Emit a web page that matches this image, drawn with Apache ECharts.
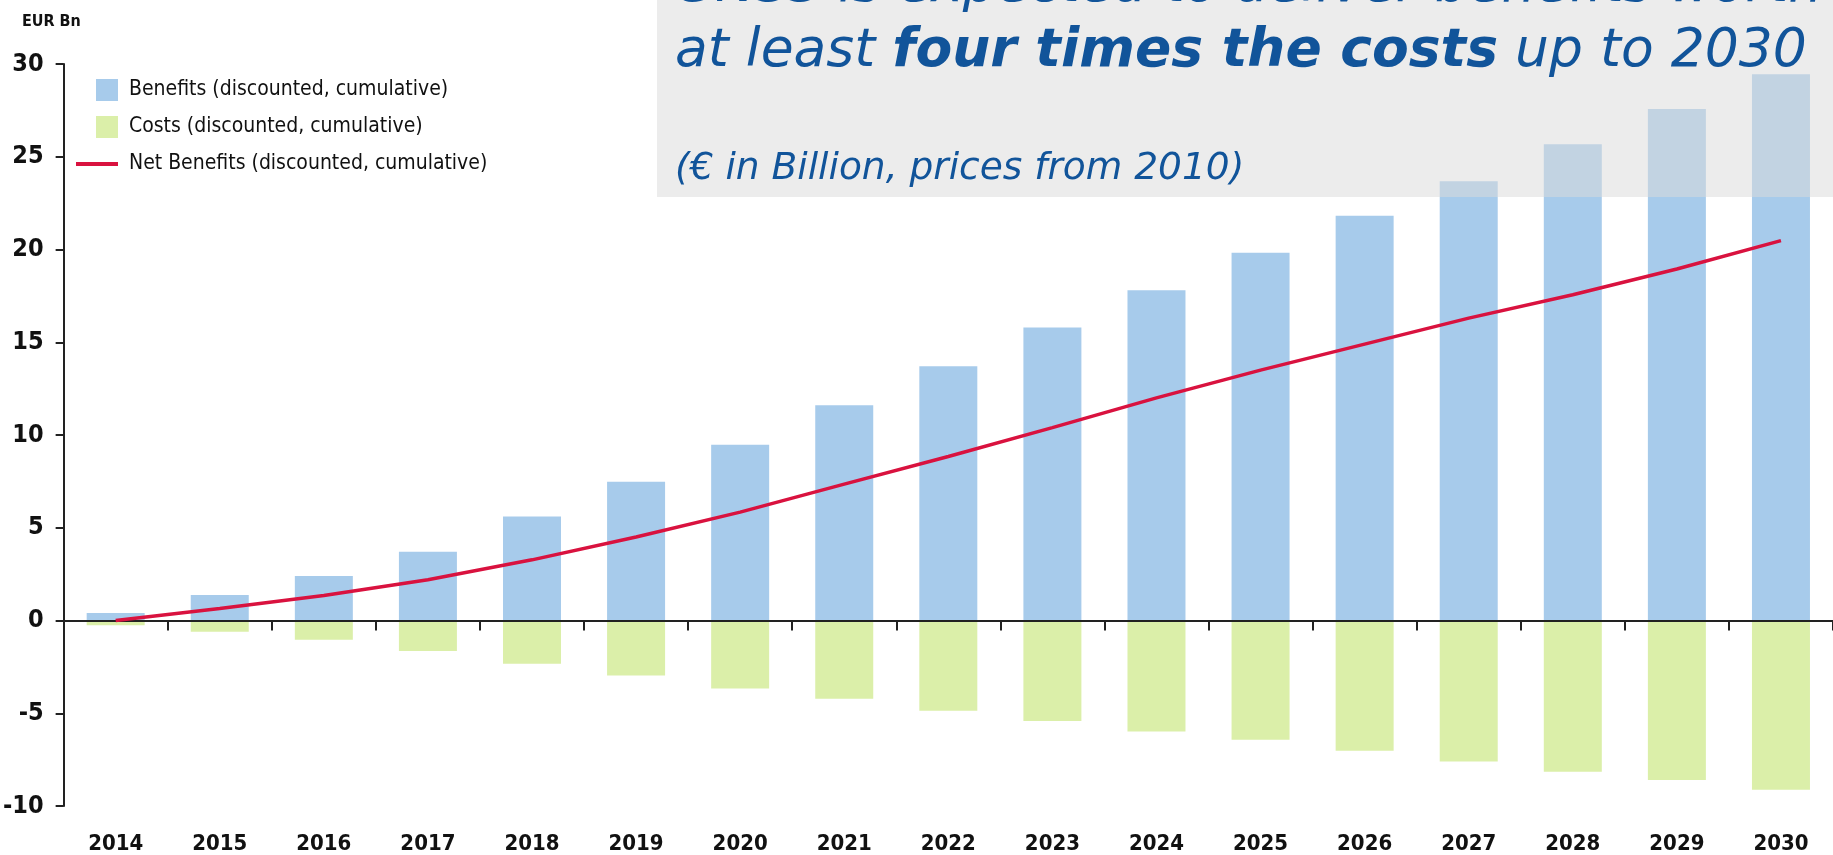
<!DOCTYPE html>
<html>
<head>
<meta charset="utf-8">
<script src="https://cdn.jsdelivr.net/npm/echarts@6/dist/echarts.min.js"></script>
<style>
html,body{margin:0;padding:0;background:#fff;}
#chart{width:1833px;height:855px;}
</style>
</head>
<body>
<div id="chart"></div>
<script>
const years = ['2014','2015','2016','2017','2018','2019','2020','2021','2022','2023','2024','2025','2026','2027','2028','2029','2030'];
const benefits = [0.4, 1.38, 2.4, 3.7, 5.61, 7.48, 9.48, 11.6, 13.7, 15.8, 17.8, 19.82, 21.82, 23.68, 25.68, 27.58, 29.45];
const costs = [-0.26, -0.6, -1.04, -1.64, -2.33, -2.96, -3.66, -4.22, -4.86, -5.42, -5.99, -6.43, -7.02, -7.6, -8.15, -8.6, -9.12];
const netBenefits = [0, 0.65, 1.35, 2.2, 3.27, 4.5, 5.84, 7.35, 8.84, 10.4, 12.0, 13.5, 14.9, 16.3, 17.56, 18.95, 20.48];
const seriesNames = ['Benefits (discounted, cumulative)', 'Costs (discounted, cumulative)', 'Net Benefits (discounted, cumulative)'];
const yMin = -10, yMax = 30, yStep = 5;
const unitLabel = 'EUR Bn';
const titleLine1 = 'GNSS is expected to deliver benefits worth';
const titleLine2 = 'at least {b|four times the costs} up to 2030';
const subtitle = '(€ in Billion, prices from 2010)';

const narrow = "'Liberation Sans Narrow', 'Arial Narrow', 'DejaVu Sans Condensed', sans-serif";
const titleColor = '#11549a';
const rectIcon = 'path://M0,11L0,11M20,0H42V22H20Z';
const lineIcon = 'path://M0,9H42V13H0Z';

const chart = echarts.init(document.getElementById('chart'), null, {renderer: 'canvas'});
chart.setOption({
  animation: false,
  backgroundColor: '#ffffff',
  grid: {left: 63, right: 0, top: 64, bottom: 48, containLabel: false},
  legend: {
    orient: 'vertical', left: 71, top: 74,
    itemWidth: 42, itemHeight: 22, itemGap: 15,
    textStyle: {fontFamily: narrow, fontSize: 21, color: '#111', lineHeight: 22, padding: [0, 0, 0, 6]},
    data: [
      {name: seriesNames[0], icon: rectIcon},
      {name: seriesNames[1], icon: rectIcon},
      {name: seriesNames[2], icon: lineIcon}
    ]
  },
  xAxis: [
    {
      type: 'category', data: years, position: 'bottom',
      axisLine: {show: false, onZero: false},
      axisTick: {show: false},
      axisLabel: {fontFamily: narrow, fontWeight: 'bold', fontSize: 22, color: '#111', margin: 27}
    },
    {
      type: 'category', data: years, position: 'bottom', z: 5,
      axisLine: {show: true, onZero: true, lineStyle: {color: '#222', width: 2}},
      axisTick: {show: true, length: 10, lineStyle: {color: '#222', width: 2}},
      axisLabel: {show: false},
      splitLine: {show: false}
    }
  ],
  yAxis: {
    type: 'value', min: yMin, max: yMax, interval: yStep,
    axisLine: {show: true, onZero: false, lineStyle: {color: '#222', width: 2}},
    axisTick: {show: true, length: 8, lineStyle: {color: '#222', width: 2}},
    axisLabel: {fontFamily: narrow, fontWeight: 'bold', fontSize: 25, color: '#111', margin: 20},
    splitLine: {show: false}
  },
  series: [
    {name: seriesNames[0], type: 'bar', stack: 'total', barWidth: 58, data: benefits,
     itemStyle: {color: '#a7cbeb'}},
    {name: seriesNames[1], type: 'bar', stack: 'total', barWidth: 58, data: costs,
     itemStyle: {color: '#dbefa9'}},
    {name: seriesNames[2], type: 'line', data: netBenefits, z: 10, symbol: 'none',
     lineStyle: {color: '#d9123f', width: 3.5}, itemStyle: {color: '#d9123f'}}
  ],
  graphic: [
    {type: 'rect', x: 657, y: 0, shape: {width: 1176, height: 197}, style: {fill: 'rgba(219,219,219,0.52)'}, z: 100, silent: true},
    {type: 'text', x: 674, y: -13, z: 101, silent: true,
     style: {text: titleLine1, fontFamily: 'DejaVu Sans', fontStyle: 'italic', fontSize: 53.5, fill: titleColor, verticalAlign: 'middle'}},
    {type: 'text', x: 675, y: 52, z: 101, silent: true,
     style: {text: titleLine2, fontFamily: 'DejaVu Sans', fontStyle: 'italic', fontSize: 53.5, fill: titleColor, verticalAlign: 'middle',
       rich: {b: {fontFamily: 'DejaVu Sans', fontStyle: 'italic', fontWeight: 'bold', fontSize: 53.5, fill: titleColor}}}},
    {type: 'text', x: 675, y: 169, z: 101, silent: true,
     style: {text: subtitle, fontFamily: 'DejaVu Sans', fontStyle: 'italic', fontSize: 37.5, fill: titleColor, verticalAlign: 'middle'}},
    {type: 'text', x: 22, y: 22, z: 101, silent: true,
     style: {text: unitLabel, fontFamily: narrow, fontWeight: 'bold', fontSize: 16, fill: '#111', verticalAlign: 'middle'}}
  ]
});
</script>
</body>
</html>
